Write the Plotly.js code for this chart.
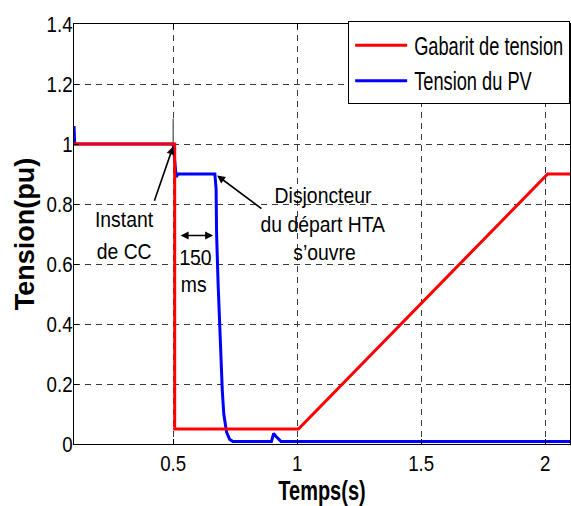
<!DOCTYPE html>
<html>
<head>
<meta charset="utf-8">
<script src="https://cdn.plot.ly/plotly-3.0.1.min.js"></script>
<style>html,body{margin:0;padding:0;background:#fff;}#chart{width:571px;height:506px;}</style>
</head>
<body>
<div id="chart"></div>
<script>
// ---- data ----
const gabaritX = [0.1, 0.506, 0.506, 1.005, 2.01, 2.1];
const gabaritY = [1.0, 1.0, 0.05, 0.05, 0.9, 0.9];

const pvX = [0.1, 0.103, 0.5, 0.512, 0.52, 0.668, 0.673, 0.675, 0.681, 0.69, 0.698, 0.704, 0.715, 0.728, 0.741, 0.896, 0.905, 0.915, 0.935, 2.1];
const pvY = [1.06, 1.0, 1.0, 0.89, 0.9, 0.9, 0.85, 0.70, 0.535, 0.31, 0.178, 0.10, 0.04, 0.015, 0.008, 0.008, 0.035, 0.025, 0.008, 0.008];

const spikeX = [0.5, 0.5];
const spikeY = [1.0, 1.085];

const seriesNames = ["Gabarit de tension", "Tension du PV"];
const xTickVals = [0.5, 1, 1.5, 2];
const xTickText = ["0.5", "1", "1.5", "2"];
const yTickVals = [0, 0.2, 0.4, 0.6, 0.8, 1, 1.2, 1.4];
const yTickText = ["0", "0.2", "0.4", "0.6", "0.8", "1", "1.2", "1.4"];

// annotation texts (one per line) and anchor points
const noteText = ["Instant", "de CC", "150", "ms", "Disjoncteur", "du départ HTA", "s’ouvre"];
const noteX = [0.301, 0.300, 0.590, 0.583, 1.106, 1.105, 1.11];
const noteY = [0.747, 0.641, 0.623, 0.533, 0.83, 0.733, 0.638];

// arrows: head and tail points, which ends carry a head
const arrowHeadX = [0.4998, 0.677, 0.661];
const arrowHeadY = [0.992, 0.895, 0.695];
const arrowTailX = [0.422, 0.862, 0.524];
const arrowTailY = [0.806, 0.781, 0.695];
const arrowSide = ["end", "end", "end+start"];

const SANS = 'Liberation Sans, Arial, sans-serif';

const traces = [
  {x: pvX, y: pvY, mode: 'lines', name: seriesNames[1], line: {color: '#0000ff', width: 3}},
  {x: spikeX, y: spikeY, mode: 'lines', showlegend: false, hoverinfo: 'skip', line: {color: '#707070', width: 1.5}},
  {x: gabaritX, y: gabaritY, mode: 'lines', name: seriesNames[0], line: {color: '#ff0000', width: 3}}
];

const annotations = [];
for (let i = 0; i < noteText.length; i++) {
  annotations.push({x: noteX[i], y: noteY[i], xref: 'x', yref: 'y', text: noteText[i], showarrow: false,
    xanchor: 'center', yanchor: 'middle', font: {family: SANS, size: 22, color: '#000'}});
}
for (let i = 0; i < arrowHeadX.length; i++) {
  annotations.push({x: arrowHeadX[i], y: arrowHeadY[i], ax: arrowTailX[i], ay: arrowTailY[i],
    xref: 'x', yref: 'y', axref: 'x', ayref: 'y', text: '', showarrow: true,
    arrowhead: 2, startarrowhead: 2, arrowside: arrowSide[i], arrowsize: 1, startarrowsize: 1,
    arrowwidth: 1.6, arrowcolor: '#000', standoff: 0, startstandoff: 0});
}

const axisCommon = {
  showline: true, linecolor: '#000', linewidth: 1, mirror: 'ticks',
  ticks: 'inside', ticklen: 5, tickcolor: '#000', tickwidth: 1,
  showgrid: true, gridcolor: '#3a3a3a', gridwidth: 1, griddash: '6px,5px',
  zeroline: false, tickfont: {family: SANS, size: 22, color: '#000'}
};

const layout = {
  width: 571, height: 506,
  margin: {l: 74, r: 1, t: 24, b: 62},
  paper_bgcolor: '#fff', plot_bgcolor: '#fff',
  font: {family: SANS, color: '#000'},
  showlegend: true,
  legend: {x: 1, y: 1.006, xanchor: 'right', yanchor: 'top', traceorder: 'reversed',
    bgcolor: '#fff', bordercolor: '#000', borderwidth: 1,
    font: {family: SANS, size: 25, color: '#000'}, itemwidth: 55},
  xaxis: Object.assign({}, axisCommon, {range: [0.1, 2.1], tickvals: xTickVals, ticktext: xTickText,
    title: {text: '<b>Temps(s)</b>', font: {family: SANS, size: 27, color: '#000'}, standoff: 11}}),
  yaxis: Object.assign({}, axisCommon, {range: [0, 1.4], tickvals: yTickVals, ticktext: yTickText,
    title: {text: '<b>Tension(pu)</b>', font: {family: SANS, size: 27, color: '#000'}, standoff: 2}}),
  annotations: annotations
};

// horizontal condensing of text (the reference uses a narrow face)
function squeeze(el, f) {
  const x = parseFloat(el.getAttribute('x')) || 0;
  const prev = el.getAttribute('transform') || '';
  el.setAttribute('transform', (prev + ' translate(' + x + ',0) scale(' + f + ',1) translate(' + (-x) + ',0)').trim());
}

const gd = document.getElementById('chart');
Plotly.newPlot(gd, traces, layout, {displayModeBar: false, staticPlot: true}).then(function () {
  const F_TICK = 0.85, F_NOTE = 0.88, F_LEG = 0.73, F_XT = 0.74;
  const Y_LABEL_SHIFT = 4;  // labels sit right against the axis in the reference

  let maxY = 0;
  gd.querySelectorAll('.ytick text').forEach(function (t) { maxY = Math.max(maxY, t.getBBox().width); });
  gd.querySelectorAll('.xtick text').forEach(function (t) { squeeze(t, F_TICK); });
  gd.querySelectorAll('.ytick text').forEach(function (t) {
    t.setAttribute('transform', 'translate(' + Y_LABEL_SHIFT + ',0) ' + (t.getAttribute('transform') || ''));
    squeeze(t, F_TICK);
  });
  const yt = gd.querySelector('.ytitle');
  if (yt) {
    const dx = maxY * (1 - F_TICK) + Y_LABEL_SHIFT - 2;
    yt.setAttribute('transform', 'translate(' + dx + ',0) ' + (yt.getAttribute('transform') || ''));
  }
  const xt = gd.querySelector('.xtitle');
  if (xt) squeeze(xt, F_XT);

  gd.querySelectorAll('.annotation-text').forEach(function (t) { squeeze(t, F_NOTE); });

  const leg = gd.querySelector('g.legend');
  if (leg) {
    let maxL = 0;
    leg.querySelectorAll('text.legendtext').forEach(function (t) { maxL = Math.max(maxL, t.getBBox().width); });
    leg.querySelectorAll('text.legendtext').forEach(function (t) { squeeze(t, F_LEG); });
    const shrink = maxL * (1 - F_LEG);
    const bg = leg.querySelector('rect.bg');
    if (bg) bg.setAttribute('width', parseFloat(bg.getAttribute('width')) - shrink);
    const m = /translate\(\s*([-\d.e]+)[ ,]+([-\d.e]+)\s*\)/.exec(leg.getAttribute('transform') || '');
    if (m) leg.setAttribute('transform', 'translate(' + (parseFloat(m[1]) + shrink) + ',' + m[2] + ')');
    leg.querySelectorAll('.legendlines path').forEach(function (p) { p.setAttribute('d', 'M6,0h52'); });
  }
});
</script>
</body>
</html>
